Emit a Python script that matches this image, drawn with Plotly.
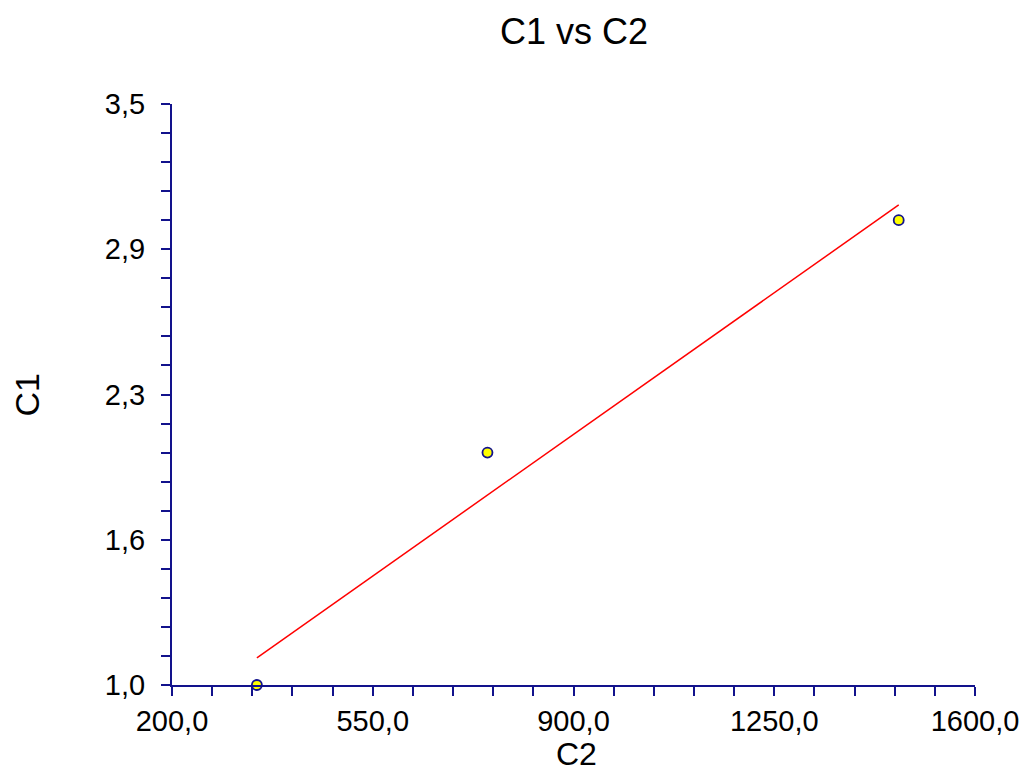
import numpy as np
import plotly.graph_objects as go

# Observations
c2 = [348.0, 750.0, 1467.0]
c1 = [1.0, 2.0, 3.0]

# Axis ticks
x_tick_vals = [200 + 70 * i for i in range(21)]
x_tick_labels = ["200,0", "550,0", "900,0", "1250,0", "1600,0"]
y_tick_vals = [1.0 + 0.125 * i for i in range(21)]
y_tick_labels = ["1,0", "1,6", "2,3", "2,9", "3,5"]

NAVY = "#12128c"
FONT = "Liberation Sans, Arial, sans-serif"

# Least-squares fit of C1 on C2, drawn across the observed C2 span
slope, intercept = np.polyfit(c2, c1, 1)
fit_x = [min(c2), max(c2)]
fit_y = [slope * v + intercept for v in fit_x]

x_text = [x_tick_labels[i // 5] if i % 5 == 0 else "" for i in range(len(x_tick_vals))]
y_text = [y_tick_labels[i // 5] if i % 5 == 0 else "" for i in range(len(y_tick_vals))]

fig = go.Figure()
fig.add_trace(go.Scatter(
    x=fit_x, y=fit_y, mode="lines",
    line=dict(color="#ff0000", width=1.5),
    showlegend=False, hoverinfo="skip",
))
fig.add_trace(go.Scatter(
    x=c2, y=c1, mode="markers",
    marker=dict(size=10, color="#ffff00", line=dict(color=NAVY, width=1.8)),
    cliponaxis=False, showlegend=False,
))

axis_common = dict(
    showgrid=False, zeroline=False, showline=True,
    linecolor=NAVY, linewidth=2,
    ticks="outside", ticklen=9, tickwidth=2, tickcolor=NAVY,
    tickfont=dict(family=FONT, size=29, color="#000000"),
    tickmode="array", automargin=False,
)

fig.update_layout(
    width=1026, height=774,
    margin=dict(l=172, r=51, t=104, b=89),
    paper_bgcolor="white", plot_bgcolor="white",
    title=dict(
        text="C1 vs C2", x=0.5595, xanchor="center",
        y=0.96, yanchor="middle", yref="container",
        font=dict(family=FONT, size=36, color="#000000"),
    ),
    xaxis=dict(
        range=[200, 1600], tickvals=x_tick_vals, ticktext=x_text,
        **axis_common,
    ),
    yaxis=dict(
        range=[1.0, 3.5], tickvals=y_tick_vals, ticktext=y_text,
        ticklabelstandoff=10,
        **axis_common,
    ),
    annotations=[
        dict(text="C2", xref="paper", yref="paper", x=0.5, y=0,
             xshift=3, yshift=-69, xanchor="center", yanchor="middle",
             showarrow=False, font=dict(family=FONT, size=32, color="#000000")),
        dict(text="C1", xref="paper", yref="paper", x=0, y=0.5,
             xshift=-146, yshift=-1, xanchor="center", yanchor="middle",
             textangle=-90, showarrow=False,
             font=dict(family=FONT, size=34, color="#000000")),
    ],
)

fig.write_html("out.html")
